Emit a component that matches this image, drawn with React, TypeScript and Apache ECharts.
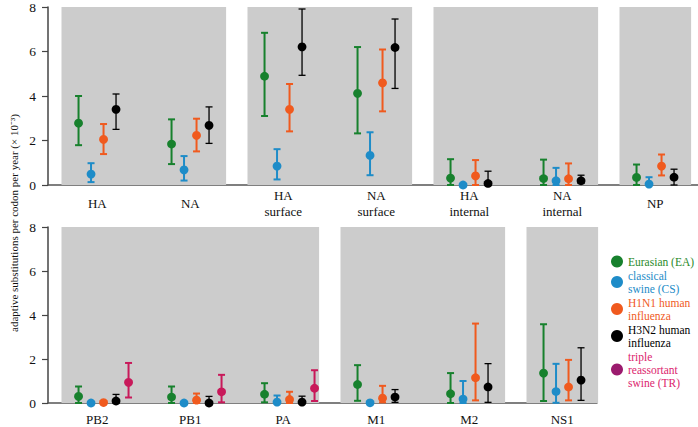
import React, { useEffect, useRef } from 'react';
import * as echarts from 'echarts';

// ---- categories ----
const CATS_TOP = ['HA', 'NA', 'HA\nsurface', 'NA\nsurface', 'HA\ninternal', 'NA\ninternal', 'NP'];
const CATS_BOTTOM = ['PB2', 'PB1', 'PA', 'M1', 'M2', 'NS1'];
const Y_TICKS = [0, 2, 4, 6, 8];

// ---- panel groupings (category index ranges) ----
const PANELS_TOP = [[0, 1], [2, 3], [4, 5], [6, 6]];
const PANELS_BOTTOM = [[0, 2], [3, 4], [5, 5]];

// ---- series names ----
const NAMES = ['Eurasian (EA)', 'classical\nswine (CS)', 'H1N1 human\ninfluenza', 'H3N2 human\ninfluenza', 'triple\nreassortant\nswine (TR)'];

// ---- top values (×10^-3) ----
const EA_TOP_VAL = [2.78, 1.84, 4.89, 4.12, 0.31, 0.29, 0.34];
const EA_TOP_LOW = [1.79, 0.94, 3.10, 2.32, 0, 0, 0];
const EA_TOP_HIGH = [4.0, 2.95, 6.84, 6.20, 1.16, 1.14, 0.92];
const CS_TOP_VAL = [0.49, 0.68, 0.85, 1.33, 0, 0.19, 0.04];
const CS_TOP_LOW = [0.13, 0.20, 0.25, 0.44, 0, 0, 0];
const CS_TOP_HIGH = [0.98, 1.30, 1.61, 2.37, 0, 0.77, 0.35];
const H1_TOP_VAL = [2.05, 2.23, 3.40, 4.59, 0.41, 0.28, 0.85];
const H1_TOP_LOW = [1.39, 1.51, 2.41, 3.31, 0, 0, 0.43];
const H1_TOP_HIGH = [2.74, 2.98, 4.54, 6.09, 1.12, 0.97, 1.37];
const H3_TOP_VAL = [3.40, 2.68, 6.21, 6.18, 0.07, 0.19, 0.35];
const H3_TOP_LOW = [2.50, 1.87, 4.93, 4.34, 0, 0.07, 0];
const H3_TOP_HIGH = [4.09, 3.51, 7.91, 7.46, 0.62, 0.44, 0.71];

// ---- bottom values ----
const EA_BOT_VAL = [0.30, 0.27, 0.40, 0.84, 0.42, 1.36];
const EA_BOT_LOW = [0, 0, 0.03, 0.10, 0, 0.09];
const EA_BOT_HIGH = [0.75, 0.75, 0.90, 1.72, 1.36, 3.58];
const CS_BOT_VAL = [0, 0, 0.04, 0.01, 0.18, 0.52];
const CS_BOT_LOW = [0, 0, 0, 0, 0, 0.01];
const CS_BOT_HIGH = [0, 0, 0.34, 0.01, 1.0, 1.78];
const H1_BOT_VAL = [0.02, 0.13, 0.16, 0.22, 1.15, 0.73];
const H1_BOT_LOW = [0, 0, 0, 0.03, 0.12, 0.12];
const H1_BOT_HIGH = [0.02, 0.43, 0.51, 0.78, 3.61, 1.96];
const H3_BOT_VAL = [0.09, 0, 0.04, 0.27, 0.73, 1.04];
const H3_BOT_LOW = [0, 0, 0, 0.03, 0.03, 0.12];
const H3_BOT_HIGH = [0.39, 0.30, 0.31, 0.61, 1.79, 2.51];
const TR_BOT_VAL = [0.94, 0.51, 0.67, null, null, null];
const TR_BOT_LOW = [0.25, 0.03, 0.09, null, null, null];
const TR_BOT_HIGH = [1.82, 1.28, 1.49, null, null, null];

// ---- styles ----
const COLORS = ['#17812d', '#1e8cc8', '#f05a1e', '#000000', '#c8195a'];
const LEGEND_TEXT = ['#2a8a2a', '#1e8cc8', '#f05a1e', '#000000', '#dc1e6e'];
const LEGEND_ICON = ['#17812d', '#1e8cc8', '#f05a1e', '#000000', '#9b1b6e'];
const LINE_W = [2, 2, 2, 1.3, 2];
const SERIF = "'Liberation Serif', 'Times New Roman', serif";
const BAND = 93;
const XMIN = -0.53;
const SPACING = 12.5;
const PAD = 0.385;

function rows(val: (number | null)[], lo: (number | null)[], hi: (number | null)[]) {
  const out: number[][] = [];
  val.forEach((v, i) => {
    if (v !== null && v !== undefined) out.push([i, v, lo[i] as number, hi[i] as number]);
  });
  return out;
}

function errSeries(idx: number, grid: number, data: number[][]) {
  const color = COLORS[idx];
  const lw = LINE_W[idx];
  return {
    type: 'custom',
    name: NAMES[idx],
    xAxisIndex: grid,
    yAxisIndex: grid,
    z: 3,
    itemStyle: { color },
    encode: { x: 0, y: [1, 2, 3] },
    data,
    renderItem: (params: any, api: any) => {
      const x = api.value(0);
      const p = api.coord([x, api.value(1)]);
      const pl = api.coord([x, api.value(2)]);
      const ph = api.coord([x, api.value(3)]);
      const cx = p[0] + (idx - 1.5) * SPACING;
      const st = { stroke: color, lineWidth: lw };
      const children: any[] = [];
      if (pl[1] - ph[1] > 0.5) {
        children.push({ type: 'line', shape: { x1: cx, y1: ph[1], x2: cx, y2: pl[1] }, style: st });
        children.push({ type: 'line', shape: { x1: cx - 3.5, y1: ph[1], x2: cx + 3.5, y2: ph[1] }, style: st });
        children.push({ type: 'line', shape: { x1: cx - 3.5, y1: pl[1], x2: cx + 3.5, y2: pl[1] }, style: st });
      }
      children.push({ type: 'circle', shape: { cx, cy: p[1], r: 4.4 }, style: { fill: color } });
      return { type: 'group', children };
    },
  };
}

function panelSeries(grid: number, panels: number[][]) {
  return {
    type: 'custom',
    xAxisIndex: grid,
    yAxisIndex: grid,
    z: 1,
    silent: true,
    encode: { x: [0, 1] },
    data: panels,
    renderItem: (params: any, api: any) => {
      const a = api.coord([api.value(0) - PAD, 8]);
      const b = api.coord([api.value(1) + PAD, 0]);
      return {
        type: 'rect',
        shape: { x: a[0], y: a[1], width: b[0] - a[0], height: b[1] - a[1] },
        style: { fill: '#cccccc' },
      };
    },
  };
}

function xAxis(grid: number, cats: string[], width: number, margin: number) {
  return {
    gridIndex: grid,
    type: 'value',
    min: XMIN,
    max: XMIN + width / BAND,
    axisLine: { show: true, onZero: false, lineStyle: { color: '#555', width: 1.5 } },
    axisTick: { show: false },
    splitLine: { show: false },
    axisLabel: {
      customValues: cats.map((_, i) => i),
      formatter: (v: number) => cats[Math.round(v)] ?? '',
      margin,
      verticalAlign: 'middle',
      fontFamily: SERIF,
      fontSize: 13,
      lineHeight: 16,
      color: '#111',
    },
  };
}

function yAxis(grid: number) {
  return {
    gridIndex: grid,
    type: 'value',
    min: 0,
    max: 8,
    interval: 2,
    axisLine: { show: true, onZero: false, lineStyle: { color: '#444', width: 1.5 } },
    axisTick: { show: true, length: 6, lineStyle: { color: '#444', width: 1.2 } },
    splitLine: { show: false },
    axisLabel: {
      margin: 12,
      fontFamily: SERIF,
      fontSize: 13.5,
      color: '#111',
      formatter: (v: number) => (Y_TICKS.includes(v) ? String(v) : ''),
    },
  };
}

const option: any = {
  animation: false,
  textStyle: { fontFamily: SERIF },
  grid: [
    { left: 48, top: 7, width: 650, height: 178 },
    { left: 48, top: 227, width: 549, height: 178 },
  ],
  xAxis: [xAxis(0, CATS_TOP, 650, 18), xAxis(1, CATS_BOTTOM, 549, 16)],
  yAxis: [yAxis(0), yAxis(1)],
  legend: {
    orient: 'vertical',
    left: 606,
    top: 250,
    itemGap: 1,
    itemWidth: 12,
    itemHeight: 12,
    selectedMode: false,
    textStyle: { fontFamily: SERIF, fontSize: 11.5, lineHeight: 13 },
    data: NAMES.map((n, i) => ({
      name: n,
      icon: 'circle',
      itemStyle: { color: LEGEND_ICON[i] },
      textStyle: { color: LEGEND_TEXT[i], fontFamily: SERIF, fontSize: 11.5, lineHeight: 13 },
    })),
  },
  graphic: [
    {
      type: 'text',
      x: 14,
      y: 223,
      rotation: Math.PI / 2,
      style: {
        text: 'adaptive substitutions per codon per year (× 10⁻³)',
        fontFamily: SERIF,
        fontSize: 11,
        fill: '#111',
        align: 'center',
        verticalAlign: 'middle',
      },
    },
  ],
  series: [
    panelSeries(0, PANELS_TOP),
    panelSeries(1, PANELS_BOTTOM),
    errSeries(0, 0, rows(EA_TOP_VAL, EA_TOP_LOW, EA_TOP_HIGH)),
    errSeries(1, 0, rows(CS_TOP_VAL, CS_TOP_LOW, CS_TOP_HIGH)),
    errSeries(2, 0, rows(H1_TOP_VAL, H1_TOP_LOW, H1_TOP_HIGH)),
    errSeries(3, 0, rows(H3_TOP_VAL, H3_TOP_LOW, H3_TOP_HIGH)),
    errSeries(0, 1, rows(EA_BOT_VAL, EA_BOT_LOW, EA_BOT_HIGH)),
    errSeries(1, 1, rows(CS_BOT_VAL, CS_BOT_LOW, CS_BOT_HIGH)),
    errSeries(2, 1, rows(H1_BOT_VAL, H1_BOT_LOW, H1_BOT_HIGH)),
    errSeries(3, 1, rows(H3_BOT_VAL, H3_BOT_LOW, H3_BOT_HIGH)),
    errSeries(4, 1, rows(TR_BOT_VAL, TR_BOT_LOW, TR_BOT_HIGH)),
  ],
};

export default function App() {
  const ref = useRef<HTMLDivElement>(null);
  useEffect(() => {
    const chart = echarts.init(ref.current!, null, { renderer: 'svg' });
    chart.setOption(option);
    return () => chart.dispose();
  }, []);
  return (
    <div
      ref={ref}
      style={{ position: 'absolute', left: 0, top: 0, width: 698, height: 427, background: '#fff' }}
    />
  );
}
